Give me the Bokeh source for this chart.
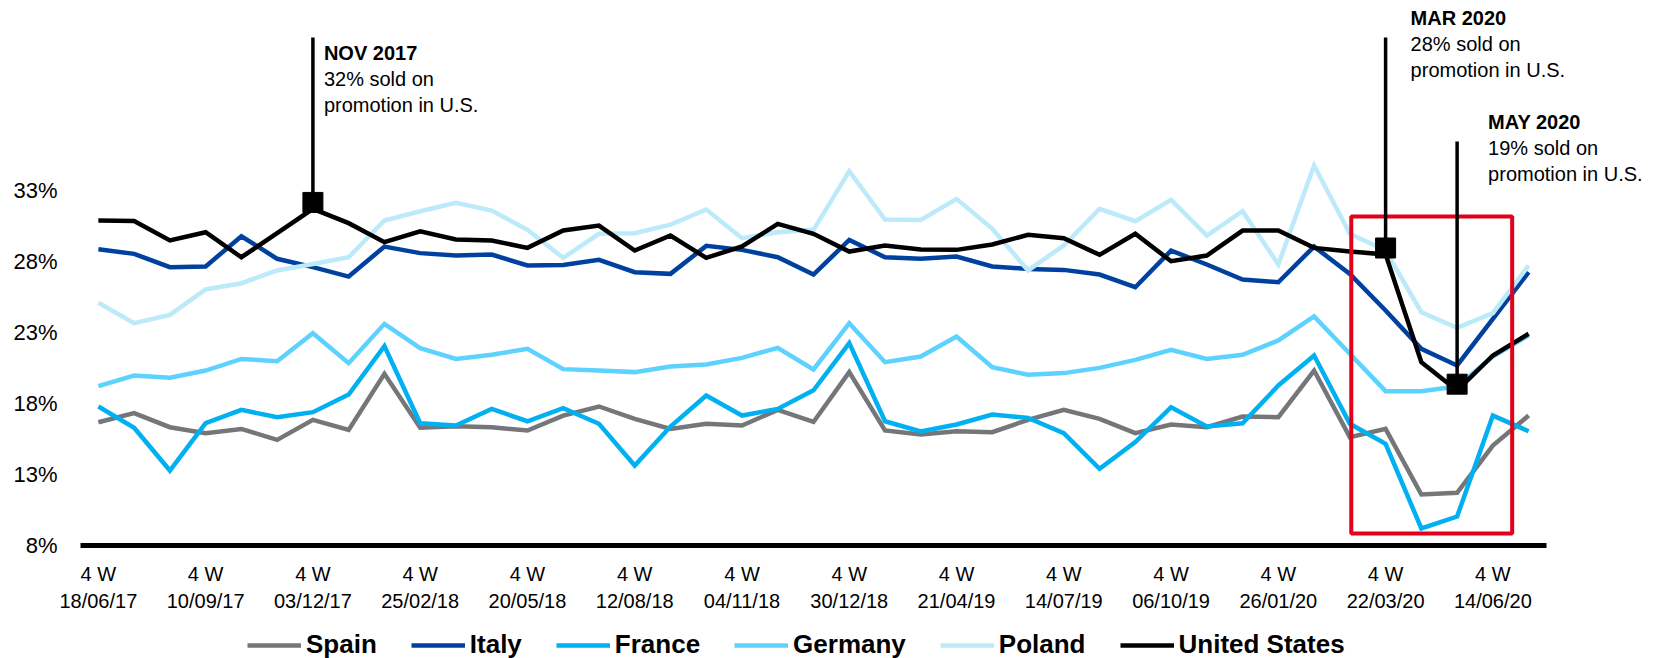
from bokeh.plotting import figure
from bokeh.models import Range1d, FixedTicker, Legend, LegendItem
from bokeh.embed import file_html
from bokeh.resources import INLINE
from bokeh.core.properties import value

# ---------------- data ----------------
tick_dates = ["18/06/17", "10/09/17", "03/12/17", "25/02/18", "20/05/18", "12/08/18",
              "04/11/18", "30/12/18", "21/04/19", "14/07/19", "06/10/19", "26/01/20",
              "22/03/20", "14/06/20"]
tick_prefix = "4 W"

spain = [16.68, 17.32, 16.33, 15.91, 16.21, 15.44, 16.85, 16.14, 20.09, 16.29,
         16.40, 16.33, 16.10, 17.15, 17.79, 16.92, 16.21, 16.57, 16.45, 17.55,
         16.70, 20.21, 16.10, 15.82, 16.05, 15.98, 16.85, 17.55, 16.92, 15.91,
         16.52, 16.33, 17.08, 17.04, 20.32, 15.63, 16.21, 11.59, 11.71, 15.04, 17.15]
italy = [28.87, 28.54, 27.60, 27.65, 29.78, 28.19, 27.60, 26.94, 29.05, 28.59,
         28.42, 28.49, 27.72, 27.76, 28.12, 27.25, 27.13, 29.10, 28.82, 28.30,
         27.08, 29.52, 28.30, 28.19, 28.35, 27.65, 27.48, 27.41, 27.08, 26.19,
         28.77, 27.79, 26.73, 26.54, 29.05, 27.13, 24.55, 21.85, 20.68, 23.96, 27.25]
france = [17.79, 16.29, 13.28, 16.61, 17.55, 17.04, 17.39, 18.63, 22.04, 16.61,
          16.45, 17.62, 16.75, 17.67, 16.57, 13.63, 16.38, 18.56, 17.15, 17.62,
          18.93, 22.25, 16.75, 16.03, 16.52, 17.22, 16.99, 15.91, 13.40, 15.28,
          17.74, 16.38, 16.61, 19.27, 21.38, 16.57, 15.16, 9.20, 10.04, 17.15, 16.05]
germany = [19.22, 19.97, 19.81, 20.32, 21.14, 20.98, 22.95, 20.84, 23.61, 21.90,
           21.14, 21.43, 21.85, 20.42, 20.32, 20.21, 20.60, 20.75, 21.21, 21.92,
           20.40, 23.66, 20.91, 21.31, 22.72, 20.56, 20.02, 20.14, 20.51, 21.07,
           21.78, 21.14, 21.43, 22.44, 24.13, 21.50, 18.87, 18.87, 19.20, 21.30, 22.80]
poland = [25.09, 23.66, 24.24, 26.03, 26.47, 27.37, 27.83, 28.30, 30.89, 31.54,
          32.13, 31.59, 30.23, 28.26, 29.95, 29.99, 30.60, 31.66, 29.64, 30.06,
          30.23, 34.36, 30.96, 30.93, 32.41, 30.30, 27.37, 29.13, 31.71, 30.84,
          32.34, 29.83, 31.54, 27.79, 34.76, 29.95, 28.77, 24.43, 23.33, 24.36, 27.72]
united_states = [30.89, 30.85, 29.48, 30.06, 28.30, 29.99, 31.71, 30.70, 29.36, 30.13,
                 29.55, 29.48, 28.96, 30.18, 30.53, 28.77, 29.83, 28.26, 29.06, 30.65,
                 29.95, 28.70, 29.13, 28.84, 28.82, 29.20, 29.88, 29.64, 28.47, 29.95,
                 28.02, 28.42, 30.18, 30.18, 28.96, 28.70, 28.50, 20.91, 18.91, 21.38, 22.91]

series_names = ["Spain", "Italy", "France", "Germany", "Poland", "United States"]
series_values = [spain, italy, france, germany, poland, united_states]
y_ticks = [8, 13, 18, 23, 28, 33]

annotations = [
    dict(idx=6, head="NOV 2017", body=["32% sold on", "promotion in U.S."]),
    dict(idx=36, head="MAR 2020", body=["28% sold on", "promotion in U.S."]),
    dict(idx=38, head="MAY 2020", body=["19% sold on", "promotion in U.S."]),
]

# ---------------- styling / layout ----------------
colors = ["#75767a", "#0041a0", "#00b0f0", "#5ed2ff", "#bceafa", "#000000"]
FONT = "Liberation Sans"
W, H = 1655, 658
AX_LEFT_PX = 80           # where the plotting area starts (x = -0.5)
AX_RIGHT_PX = 1546        # where it ends (x = n - 0.5)
BASE_PX = 545             # pixel row of the 8% baseline
PX_PER_PCT = 14.2
Y_MIN = 8

n = len(spain)
x = list(range(n))
x_lo, x_hi = -0.5, n - 0.5
ux = (x_hi - x_lo) / (AX_RIGHT_PX - AX_LEFT_PX)
x_start = x_lo - AX_LEFT_PX * ux
x_end = x_hi + (W - AX_RIGHT_PX) * ux
y_start = Y_MIN - (H - BASE_PX) / PX_PER_PCT
y_end = Y_MIN + BASE_PX / PX_PER_PCT


def px_to_val(ypx):
    return Y_MIN + (BASE_PX - ypx) / PX_PER_PCT


p = figure(width=W, height=H, output_backend="svg", toolbar_location=None,
           x_range=Range1d(x_start, x_end), y_range=Range1d(y_start, y_end),
           min_border_left=0, min_border_right=0, min_border_top=0, min_border_bottom=0)
p.outline_line_color = None
p.xgrid.visible = False
p.ygrid.visible = False
p.background_fill_color = "white"
p.border_fill_color = "white"

# y axis (drawn inside, at the left edge of the data area)
p.yaxis.fixed_location = x_lo
p.yaxis.ticker = FixedTicker(ticks=y_ticks)
p.yaxis.major_label_overrides = {t: f"{t}%" for t in y_ticks}
p.yaxis.axis_line_color = None
p.yaxis.major_tick_line_color = None
p.yaxis.minor_tick_line_color = None
p.yaxis.major_label_standoff = 17
p.yaxis.major_label_text_font = FONT
p.yaxis.major_label_text_font_size = "22px"
p.yaxis.major_label_text_color = "#000000"

# x axis at the 8% baseline
x_ticks = list(range(0, n, 3))
p.xaxis.fixed_location = Y_MIN
p.xaxis.bounds = (x_lo, x_hi)
p.xaxis.ticker = FixedTicker(ticks=x_ticks)
p.xaxis.major_label_overrides = {t: f"{tick_prefix}\n{d}" for t, d in zip(x_ticks, tick_dates)}
p.xaxis.axis_line_color = "#000000"
p.xaxis.axis_line_width = 5
p.xaxis.major_tick_line_color = None
p.xaxis.minor_tick_line_color = None
p.xaxis.major_label_standoff = 11
p.xaxis.major_label_text_font = FONT
p.xaxis.major_label_text_font_size = "20px"
p.xaxis.major_label_text_line_height = 1.25
p.xaxis.major_label_text_color = "#000000"

# series
items = []
for name, vals, col in zip(series_names, series_values, colors):
    r = p.line(x, vals, line_color=col, line_width=4.5, line_join="miter")
    items.append(LegendItem(label=name, renderers=[r]))

# highlight box
p.quad(left=35.04, right=39.54, bottom=px_to_val(533), top=px_to_val(216),
       fill_alpha=0, line_color="#e2001a", line_width=4)

# annotations
ann_style = {6: dict(dx=11, head_px=52, top_px=37),
             36: dict(dx=25, head_px=17, top_px=37),
             38: dict(dx=31, head_px=121, top_px=141)}
for a in annotations:
    i = a["idx"]
    st = ann_style[i]
    yv = united_states[i]
    p.segment(x0=[i], y0=[yv], x1=[i], y1=[px_to_val(st["top_px"])],
              line_color="black", line_width=3.5)
    p.scatter([i], [yv + 0.45], marker="square", size=20, fill_color="black",
              line_color="black")
    p.text([i], [px_to_val(st["head_px"])], text=[a["head"]], x_offset=st["dx"],
           text_font=value(FONT), text_font_size="20px", text_font_style="bold",
           text_baseline="middle", text_align="left", text_color="black")
    for k, line in enumerate(a["body"]):
        p.text([i], [px_to_val(st["head_px"] + 26 * (k + 1))], text=[line], x_offset=st["dx"],
               text_font=value(FONT), text_font_size="20px",
               text_baseline="middle", text_align="left", text_color="black")

# legend along the bottom (screen px from the bottom-left corner)
legend = Legend(items=items, orientation="horizontal", location=(247, -2),
                glyph_width=54, glyph_height=26, label_standoff=5, spacing=34,
                label_text_font=FONT, label_text_font_size="26px",
                label_text_font_style="bold", label_text_color="black",
                padding=0, margin=0, border_line_color=None, background_fill_alpha=0)
p.add_layout(legend)

open("out.html", "w").write(file_html(p, INLINE))
